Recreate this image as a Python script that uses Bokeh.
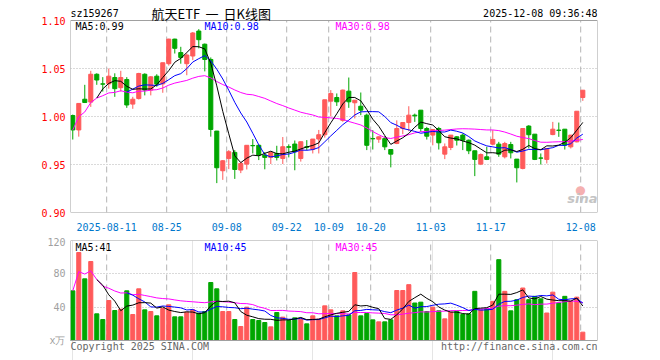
import pandas as pd
from bokeh.plotting import figure
from bokeh.models import (ColumnDataSource, FixedTicker, Label, Range1d,
                          PrintfTickFormatter, BoxAnnotation)
from bokeh.layouts import column
from bokeh.embed import file_html
from bokeh.resources import INLINE

# ---------------- data ----------------
opens = [1.001, 0.986, 1.018, 1.015, 1.044, 1.034, 1.034, 1.0406, 1.030, 1.0385,
         1.0129, 1.0187, 1.044, 1.0275, 1.042, 1.034, 1.055, 1.0806, 1.0666, 1.055,
         1.063, 1.089, 1.0753, 1.0594, 0.9848, 0.9435, 0.9563, 0.9626, 0.9442, 0.9504,
         0.9698, 0.970, 0.9598, 0.9574, 0.9615, 0.9563, 0.9685, 0.9713, 0.9563, 0.9685,
         0.966, 0.9765, 0.981, 1.016, 1.0198, 0.996, 1.0264, 1.0143, 1.0107, 1.0014,
         0.977, 0.9764, 0.977, 0.9656, 0.9719, 0.9875, 0.9937, 1.0014, 1.0066, 0.9875,
         0.9806, 0.9875, 0.9608, 0.9677, 0.9788, 0.9806, 0.9753, 0.9643, 0.9504, 0.958,
         0.9712, 0.9712, 0.958, 0.9708, 0.9556, 0.9459, 0.990, 0.9816, 0.9568, 0.9553,
         0.9812, 0.9858, 0.9868, 0.9684, 0.9736, 1.0198]
highs = [1.002, 1.014, 1.033, 1.0476, 1.045, 1.041, 1.050, 1.045, 1.0476, 1.041,
         1.0205, 1.0455, 1.045, 1.042, 1.044, 1.056, 1.081, 1.081, 1.0726, 1.0656,
         1.088, 1.091, 1.076, 1.0615, 0.985, 0.9546, 0.965, 0.965, 0.9528, 0.970,
         0.9765, 0.971, 0.963, 0.9636, 0.9695, 0.9786, 0.971, 0.975, 0.974, 0.9754,
         0.9765, 0.986, 1.0174, 1.0275, 1.024, 1.028, 1.0406, 1.017, 1.025, 1.003,
         0.9858, 0.9795, 0.9795, 0.9656, 0.996, 0.9937, 1.0107, 1.003, 1.0066, 0.9892,
         0.9865, 0.9892, 0.9719, 0.9806, 0.9795, 0.9823, 0.976, 0.9643, 0.9615, 0.9684,
         0.9858, 0.9736, 0.9736, 0.9736, 0.9556, 0.9875, 0.991, 0.9816, 0.9615, 0.9667,
         0.9944, 0.9937, 0.9868, 0.9806, 1.0055, 1.0274]
lows = [0.976, 0.979, 1.014, 1.010, 1.033, 1.026, 1.029, 1.0205, 1.026, 1.009,
        1.008, 1.0177, 1.022, 1.022, 1.031, 1.0247, 1.053, 1.0656, 1.055, 1.043,
        1.0587, 1.071, 1.047, 0.979, 0.9306, 0.934, 0.9452, 0.935, 0.941, 0.9448,
        0.9615, 0.9546, 0.945, 0.9505, 0.9542, 0.9505, 0.9574, 0.944, 0.953, 0.9648,
        0.9615, 0.9615, 0.978, 1.000, 1.011, 0.9945, 1.009, 0.998, 1.0014, 0.965,
        0.9656, 0.9726, 0.965, 0.947, 0.9712, 0.9816, 0.9847, 0.9944, 0.984, 0.976,
        0.970, 0.9656, 0.9556, 0.965, 0.9698, 0.965, 0.9608, 0.9379, 0.9494, 0.9546,
        0.970, 0.958, 0.9563, 0.9563, 0.9313, 0.945, 0.9667, 0.9546, 0.950, 0.9511,
        0.9805, 0.9788, 0.9656, 0.9667, 0.973, 1.0163]
closes = [0.986, 1.0136, 1.0146, 1.044, 1.038, 1.0337, 1.042, 1.029, 1.0406, 1.012,
          1.018, 1.0448, 1.0275, 1.0413, 1.0337, 1.056, 1.0806, 1.071, 1.0615, 1.064,
          1.087, 1.080, 1.0594, 0.9865, 0.9466, 0.9539, 0.9633, 0.9448, 0.9511, 0.970,
          0.9695, 0.9598, 0.9574, 0.9626, 0.9574, 0.9685, 0.968, 0.9633, 0.9737, 0.968,
          0.9765, 0.981, 1.0174, 1.024, 1.0153, 1.0275, 1.0153, 1.017, 1.0066, 0.970,
          0.9768, 0.9788, 0.9684, 0.9608, 0.9875, 0.9937, 1.0014, 1.0007, 0.9875, 0.9795,
          0.9865, 0.9726, 0.9684, 0.9806, 0.9753, 0.9753, 0.9643, 0.9553, 0.9604, 0.9553,
          0.9761, 0.9608, 0.9719, 0.9622, 0.9466, 0.9875, 0.981, 0.9553, 0.9566, 0.9667,
          0.9868, 0.9855, 0.9702, 0.9806, 1.0055, 1.0274]
volumes = [59.6, 105.6, 74.0, 94.8, 32.0, 25.2, 48.0, 36.0, 37.6, 59.6,
           31.2, 62.0, 36.8, 34.8, 29.6, 38.4, 42.8, 28.4, 28.4, 34.0,
           36.8, 32.8, 34.8, 69.6, 62.0, 34.8, 34.8, 25.2, 16.8, 40.0,
           25.2, 24.0, 21.6, 16.4, 33.6, 28.0, 24.0, 27.2, 25.6, 20.0,
           29.6, 25.6, 41.6, 36.8, 29.6, 35.6, 30.8, 81.6, 29.6, 32.4,
           24.8, 22.4, 22.4, 24.8, 60.0, 60.0, 67.0, 45.0, 46.0, 34.8,
           40.0, 35.6, 26.0, 34.0, 35.0, 31.2, 32.0, 59.0, 36.8, 38.0,
           47.0, 97.0, 59.0, 35.6, 49.0, 63.0, 49.0, 53.0, 50.0, 33.0,
           58.0, 45.0, 53.0, 47.0, 52.0, 10.0]

tick_index = [6, 16, 26, 36, 43, 50, 60, 70, 85]
tick_labels = ["2025-08-11", "08-25", "09-08", "09-22", "10-09", "10-20",
               "11-03", "11-17", "12-08"]
price_ticks = [0.90, 0.95, 1.00, 1.05, 1.10]
vol_ticks = [0, 40, 80, 120]
vol_tick_labels = ["x万", "40", "80", "120"]
price_lo, price_hi = 0.90, 1.10
vol_lo, vol_hi = 0, 120

# ---------------- styles ----------------
RED = "#ff5a5a"
GREEN = "#00a600"
GRID = "#b4b4b4"
BORDER = "#a0a0a0"
MONO = "DejaVu Sans Mono"
CJK = "Noto Sans CJK SC"
GRID_SHIFT = -0.35
HEAD_PX = 20      # header strip above price frame
FOOT_PX = 20      # footer strip below volume frame

n = len(closes)
idx = list(range(n))
cs = pd.Series(closes)
ma5 = cs.rolling(5).mean()
ma10 = cs.rolling(10).mean()
ma30 = cs.rolling(30, min_periods=1).mean()
vs = pd.Series(volumes)
vma5 = vs.rolling(5).mean()
vma10 = vs.rolling(10).mean()
vma30 = vs.rolling(30, min_periods=1).mean()

colors = [RED if c > o else GREEN for o, c in zip(opens, closes)]
src = ColumnDataSource(dict(
    x=idx, open=opens, high=highs, low=lows, close=closes, vol=volumes,
    top=[max(o, c) for o, c in zip(opens, closes)],
    bottom=[min(o, c) for o, c in zip(opens, closes)],
    color=colors,
    ma5=ma5, ma10=ma10, ma30=ma30, vma5=vma5, vma10=vma10, vma30=vma30,
))

grid_ticks = [t + GRID_SHIFT for t in tick_index]
x_lo, x_hi = -0.38, 87.45

PRICE_FRAME = 192
price_top_ext = price_hi + HEAD_PX * (price_hi - price_lo) / PRICE_FRAME
VOL_FRAME = 100
vol_bot_ext = vol_lo - FOOT_PX * (vol_hi - vol_lo) / VOL_FRAME


def lab(p, text, x, y, color="black", size="10px", font=MONO, align="left",
        style="normal"):
    p.add_layout(Label(x=x, y=y, x_units="screen", y_units="screen", text=text,
                       text_color=color, text_font_size=size, text_font=font,
                       text_align=align, text_baseline="middle",
                       text_font_style=style))


def style_axis(ax, color):
    ax.axis_line_color = None
    ax.major_tick_line_color = None
    ax.minor_tick_line_color = None
    ax.major_tick_out = 0
    ax.major_tick_in = 0
    ax.minor_tick_out = 0
    ax.minor_tick_in = 0
    ax.major_label_text_font = MONO
    ax.major_label_text_font_size = "10px"
    ax.major_label_text_color = color


# ---------------- price panel ----------------
p1 = figure(width=660, height=PRICE_FRAME + HEAD_PX + 24, output_backend="svg",
            toolbar_location=None,
            x_range=Range1d(x_lo, x_hi), y_range=Range1d(price_lo, price_top_ext),
            min_border_left=70, min_border_right=63, min_border_top=0,
            min_border_bottom=24)
p1.outline_line_color = None
p1.background_fill_color = "white"

p1.xaxis.ticker = FixedTicker(ticks=grid_ticks)
p1.xaxis.major_label_overrides = {g: l for g, l in zip(grid_ticks, tick_labels)}
style_axis(p1.xaxis[0], "#0077cc")
p1.xaxis.major_label_standoff = 10

p1.yaxis.ticker = FixedTicker(ticks=price_ticks)
p1.yaxis.formatter = PrintfTickFormatter(format="%.2f")
style_axis(p1.yaxis[0], "#ff0000")
p1.yaxis.major_label_standoff = 5

p1.xgrid.visible = False
p1.ygrid.ticker = FixedTicker(ticks=[0.95, 1.00, 1.05])
p1.ygrid.grid_line_color = GRID
p1.ygrid.grid_line_dash = "1 2"

p1.segment(x0=grid_ticks, x1=grid_ticks, y0=[price_lo] * len(grid_ticks),
           y1=[price_hi] * len(grid_ticks), line_color=GRID, line_width=1,
           line_dash="6 4")
p1.add_layout(BoxAnnotation(bottom=price_lo, top=price_hi, fill_alpha=0,
                            line_color=BORDER, line_width=1, line_alpha=1))

p1.segment(x0="x", x1="x", y0="low", y1="high", color="color", line_width=1, source=src)
p1.vbar(x="x", top="top", bottom="bottom", width=0.68, fill_color="color",
        line_color="color", line_width=1, source=src)
p1.line("x", "ma30", color="#ff00ff", line_width=1, source=src)
p1.line("x", "ma10", color="#0000ff", line_width=1, source=src)
p1.line("x", "ma5", color="#000000", line_width=1, source=src)

lab(p1, "sz159267", 0, 199)
lab(p1, "航天ETF", 81, 199, size="13px", font=CJK)
lab(p1, "一", 135, 199, size="13px", font=CJK)
lab(p1, "日K线图", 153, 199, size="13px", font=CJK)
lab(p1, "2025-12-08 09:36:48", 527, 199, align="right")
lab(p1, "MA5:%.2f" % ma5.iloc[-1], 5, 186)
lab(p1, "MA10:%.2f" % ma10.iloc[-1], 134, 186, color="#0000ff")
lab(p1, "MA30:%.2f" % ma30.iloc[-1], 265, 186, color="#ff00ff")
lab(p1, "●", 510, 23, color="#f5b0b0", size="12px", font="DejaVu Sans",
    align="center")
lab(p1, "sina", 527, 14, color="#c4c4c4", size="13px", font="DejaVu Sans",
    align="right", style="bold italic")

# ---------------- volume panel ----------------
p2 = figure(width=660, height=4 + VOL_FRAME + FOOT_PX, output_backend="svg",
            toolbar_location=None,
            x_range=p1.x_range, y_range=Range1d(vol_bot_ext, vol_hi),
            x_axis_location=None,
            min_border_left=70, min_border_right=63, min_border_top=4,
            min_border_bottom=0)
p2.outline_line_color = None
p2.yaxis.ticker = FixedTicker(ticks=vol_ticks)
p2.yaxis.major_label_overrides = {t: l for t, l in zip(vol_ticks, vol_tick_labels)}
style_axis(p2.yaxis[0], "#a0a0a0")
p2.yaxis.major_label_standoff = 5
p2.ygrid.ticker = FixedTicker(ticks=[40, 80])
p2.ygrid.grid_line_color = GRID
p2.ygrid.grid_line_dash = "1 2"

p2.segment(x0=grid_ticks, x1=grid_ticks, y0=[vol_lo] * len(grid_ticks),
           y1=[vol_hi] * len(grid_ticks), line_color=GRID, line_width=1,
           line_dash="6 4")
p2.add_layout(BoxAnnotation(bottom=vol_lo, top=vol_hi, fill_alpha=0,
                            line_color=BORDER, line_width=1, line_alpha=1))

p2.vbar(x="x", top="vol", bottom=0, width=0.68, fill_color="color",
        line_color="color", line_width=1, source=src)
p2.line("x", "vma30", color="#ff00ff", line_width=1, source=src)
p2.line("x", "vma10", color="#0000ff", line_width=1, source=src)
p2.line("x", "vma5", color="#000000", line_width=1, source=src)

lab(p2, "MA5:%d" % round(vma5.iloc[-1]), 5, 113)
lab(p2, "MA10:%d" % round(vma10.iloc[-1]), 134, 113, color="#0000ff")
lab(p2, "MA30:%d" % round(vma30.iloc[-1]), 265, 113, color="#ff00ff")
lab(p2, "Copyright 2025 SINA.COM", 0, 14, color="#666666")
lab(p2, "http://finance.sina.com.cn", 527, 14, color="#666666", align="right")

layout = column(p1, p2, spacing=0)
open("out.html", "w").write(file_html(layout, INLINE))
